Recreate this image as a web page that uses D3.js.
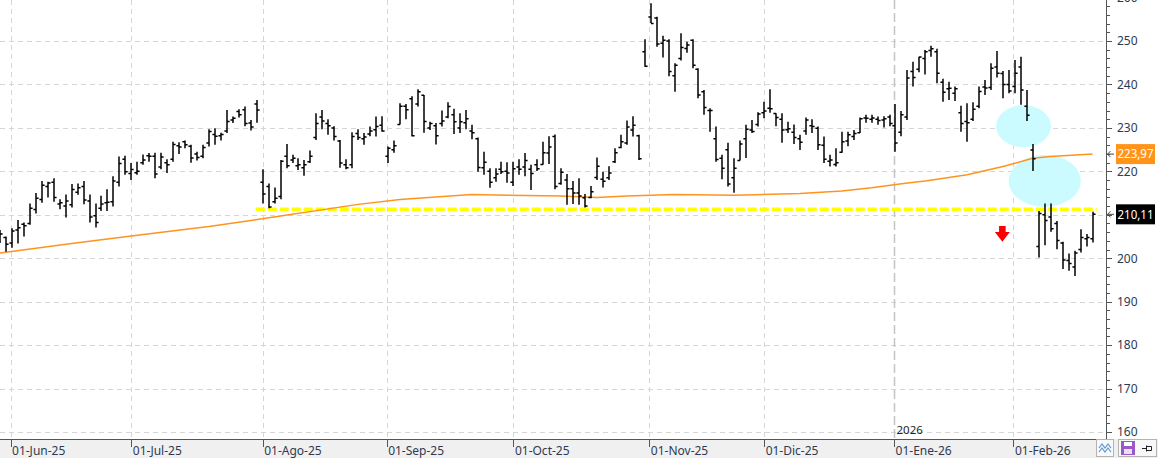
<!DOCTYPE html>
<html><head><meta charset="utf-8">
<script src="https://cdn.jsdelivr.net/npm/d3@7"></script>
<style>html,body{margin:0;padding:0;background:#fff;overflow:hidden}</style>
</head><body><svg id="c" width="1158" height="458"></svg>
<script>
// trading days (US calendar), grouped by month
const monthDays = [
  ["2025-05",[29,30]],
  ["2025-06",[2,3,4,5,6,9,10,11,12,13,16,17,18,20,23,24,25,26,27,30]],
  ["2025-07",[1,2,3,7,8,9,10,11,14,15,16,17,18,21,22,23,24,25,28,29,30,31]],
  ["2025-08",[1,4,5,6,7,8,11,12,13,14,15,18,19,20,21,22,25,26,27,28,29]],
  ["2025-09",[2,3,4,5,8,9,10,11,12,15,16,17,18,19,22,23,24,25,26,29,30]],
  ["2025-10",[1,2,3,6,7,8,9,10,13,14,15,16,17,20,21,22,23,24,27,28,29,30,31]],
  ["2025-11",[3,4,5,6,7,10,11,12,13,14,17,18,19,20,21,24,25,26,28]],
  ["2025-12",[1,2,3,4,5,8,9,10,11,12,15,16,17,18,19,22,23,24,26,29,30,31]],
  ["2026-01",[2,5,6,7,8,9,12,13,14,15,16,20,21,22,23,26,27,28,29,30]],
  ["2026-02",[2,3,4,5,6,9,10,11,12,13,17,18,19,20]]
];
const dates = monthDays.flatMap(([m, ds]) => ds.map(d => m + "-" + String(d).padStart(2,"0")));

const open = [
204.5,204.8,203.5,206.5,207.8,208.0,211.2,213.5,216.5,217.5,
212.5,212.0,212.3,215.2,216.5,213.2,209.8,211.5,212.8,213.0,
217.5,222.8,219.5,219.7,222.0,223.6,223.5,221.0,222.0,222.8,
225.9,226.8,225.8,224.0,223.5,226.5,228.5,228.2,229.3,231.8,
233.8,234.2,231.1,235.5,217.5,216.5,213.0,214.2,223.5,222.6,
221.3,220.8,222.2,227.8,232.5,231.0,230.0,227.0,221.5,221.5,
228.7,227.5,228.6,229.6,230.6,223.5,225.0,230.8,235.0,236.7,
235.5,237.5,230.0,230.5,231.0,232.5,233.0,230.0,231.2,229.3,
227.5,220.8,220.0,218.5,220.5,220.0,217.5,221.0,221.0,220.5,
221.5,221.6,224.2,228.0,217.2,218.0,216.0,215.0,213.9,214.0,
218.6,218.2,218.5,222.2,225.5,226.5,229.5,228.2,247.5,255.5,
255.3,249.5,250.0,242.0,246.0,248.3,250.2,243.5,238.3,234.0,
227.5,223.0,225.0,218.5,222.5,227.5,229.5,230.8,233.5,234.5,
233.3,232.0,229.6,229.0,227.5,229.3,230.5,229.9,226.0,222.3,
221.6,224.4,227.0,228.0,228.9,232.3,232.0,232.0,231.8,232.5,
230.5,229.0,232.5,243.0,243.5,246.0,247.8,247.5,240.5,239.0,
238.0,233.5,231.5,232.0,235.0,239.4,239.3,244.0,242.5,240.0,
239.5,244.0,235.0,224.9,202.7,210.0,209.5,208.0,203.5,199.5,
198.0,202.0,204.5,204.5];
const high = [
206.5,205.0,206.9,208.8,208.2,212.6,215.0,217.8,217.6,218.4,
213.6,214.7,217.1,217.2,217.8,214.7,212.6,214.4,215.9,218.9,
223.4,223.6,221.9,222.2,223.9,224.2,224.3,224.3,222.8,226.8,
226.7,227.1,226.1,224.5,226.1,229.7,229.9,228.9,234.1,232.6,
234.3,234.9,231.8,236.4,220.5,217.2,216.3,222.6,226.3,223.8,
223.0,222.6,224.8,233.4,234.1,232.0,230.4,227.2,222.8,229.0,
229.7,228.8,230.3,232.6,232.7,225.7,227.1,235.7,235.5,237.3,
238.9,237.6,231.4,231.1,234.0,235.9,234.4,233.4,234.1,230.7,
227.8,224.5,220.7,220.7,222.2,222.1,222.2,222.8,224.2,221.5,
222.8,226.8,228.1,228.5,220.7,219.4,217.8,218.4,214.8,216.6,
223.2,219.9,221.2,225.3,228.4,231.7,232.7,228.4,250.4,258.7,
255.6,251.2,250.4,244.9,251.8,249.8,250.4,243.7,238.7,234.5,
230.3,223.8,226.6,223.0,227.1,230.7,231.8,233.6,236.0,238.9,
233.4,233.4,231.4,230.8,228.4,232.4,232.0,230.3,228.0,223.8,
225.3,229.1,229.1,229.5,232.4,233.0,233.0,232.6,232.7,233.0,
235.5,233.9,243.3,245.2,246.4,247.9,248.9,248.2,241.3,240.6,
239.5,235.1,235.7,235.9,239.5,241.0,244.9,247.7,243.1,243.3,
245.6,246.4,238.7,226.3,210.9,212.6,212.6,208.6,203.8,201.1,
201.7,206.7,205.6,210.7];
const low = [
203.5,201.5,202.4,203.4,205.0,207.7,210.3,212.8,214.0,213.0,
211.3,209.4,211.7,214.6,212.4,208.2,207.1,210.9,210.9,211.9,
216.5,219.2,218.0,219.2,221.5,222.2,218.4,220.5,219.6,222.2,
224.0,225.3,222.0,222.5,223.0,225.7,226.1,227.1,228.8,231.1,
232.4,230.4,229.4,231.2,212.6,211.5,212.6,213.6,220.7,221.9,
220.3,219.0,221.9,227.2,229.7,228.4,227.1,220.8,220.5,220.7,
227.2,226.1,228.1,228.0,229.1,221.9,224.3,230.8,232.0,228.0,
234.9,228.9,229.5,226.2,230.3,232.2,228.6,228.8,229.7,227.4,
219.9,219.2,216.2,217.6,219.4,217.4,216.6,219.2,218.9,215.7,
220.1,221.5,221.7,215.9,216.9,212.3,212.5,212.3,211.7,213.8,
218.0,216.3,218.0,221.9,225.3,226.1,228.0,222.6,244.1,254.1,
248.7,246.2,241.9,238.3,245.5,247.3,243.7,236.8,233.0,229.1,
222.2,218.2,216.5,215.1,222.5,223.1,228.8,230.3,232.2,233.5,
230.4,226.6,228.8,226.3,224.9,228.4,228.8,224.9,221.9,221.1,
221.1,224.3,225.8,227.2,228.8,231.2,231.2,230.7,230.1,230.4,
224.5,228.1,231.8,239.5,242.8,242.3,246.4,240.3,236.0,236.4,
236.2,229.1,226.8,231.6,234.5,237.6,238.7,241.6,236.8,238.0,
238.0,235.3,231.6,220.1,200.2,203.0,206.1,202.1,197.5,197.1,
195.9,201.3,202.7,203.6];
const close = [
205.6,203.2,206.3,207.0,207.5,211.5,213.8,216.8,217.3,214.0,
212.8,213.2,215.8,216.2,213.4,209.5,208.2,212.5,212.9,217.8,
221.8,219.9,220.4,220.0,222.6,223.5,219.4,223.3,221.5,226.2,
225.6,226.1,223.1,223.2,225.5,229.2,228.1,228.5,231.5,232.2,
233.0,231.0,230.2,234.1,214.8,211.8,213.8,222.3,221.3,223.0,
221.5,221.5,223.5,231.0,231.6,230.5,228.0,221.9,220.8,228.0,
227.8,227.9,229.3,230.3,229.3,225.3,225.9,235.0,234.2,228.2,
238.3,231.5,231.0,228.2,231.6,234.9,231.4,231.4,232.1,228.9,
220.9,222.1,217.5,219.4,219.9,219.6,220.6,220.5,222.5,219.5,
220.6,224.3,225.6,216.5,219.8,216.0,215.0,214.3,212.0,215.3,
221.2,217.7,219.6,224.3,226.8,230.2,230.6,222.9,244.2,254.0,
249.3,250.2,243.0,244.4,248.5,249.1,244.4,237.6,234.7,234.0,
222.7,220.7,217.1,220.7,226.3,229.7,229.2,233.2,233.9,234.4,
232.4,229.5,229.8,227.8,226.7,231.8,230.3,226.1,222.8,222.6,
222.0,226.8,228.4,228.7,232.1,232.2,232.3,231.7,232.1,231.0,
226.5,233.0,241.5,241.6,246.3,247.5,248.2,242.6,238.2,239.1,
239.0,231.0,231.2,234.3,238.4,239.2,243.7,242.6,240.0,238.5,
242.6,238.7,232.9,222.9,210.3,208.7,206.8,204.1,199.6,198.8,
201.2,204.8,204.8,210.11];

// long moving average (orange)
const maDates = ["2025-05-29","2025-06-16","2025-07-02","2025-07-21","2025-08-06","2025-08-25","2025-09-04",
  "2025-09-22","2025-09-30","2025-10-13","2025-10-21","2025-10-28","2025-11-07","2025-11-21","2025-12-09",
  "2025-12-18","2025-12-26","2026-01-06","2026-01-09","2026-01-21","2026-01-29","2026-02-05","2026-02-10","2026-02-20"];
const maValues = [201.2,203.4,205.3,207.3,209.7,212.4,213.5,214.7,214.5,214.3,214.0,214.3,214.7,214.5,214.9,
  215.5,216.2,217.3,217.8,219.2,221.1,223.0,223.4,223.97];

const monthTickDates = ["2025-06-01","2025-07-01","2025-08-01","2025-09-01","2025-10-01","2025-11-01","2025-12-01","2026-01-01","2026-02-01"];
const monthTickLabels = ["01-Jun-25","01-Jul-25","01-Ago-25","01-Sep-25","01-Oct-25","01-Nov-25","01-Dic-25","01-Ene-26","01-Feb-26"];
const yTickValues = [160,170,180,190,200,210,220,230,240,250,260];
const yearLabel = "2026";
const lastPrice = 210.11, lastMA = 223.97;
const supportLevel = 211.3, supportStart = "2025-07-31";
// annotation shapes (center index, value, half-width in bars, half-height in price)
const zones = [
  {idx:171.45, value:230.4, rBars:4.6, rVal:4.85},
  {idx:175.0, value:217.8, rBars:6.05, rVal:6.0}
];
const arrowMark = {idx:167.9, top:207.4, tip:203.8};

// ---------- drawing ----------
const W = 1158, H = 458, plotR = 1106, plotB = 439;
const svg = d3.select("#c");
const font = "'Segoe UI','Noto Sans','Open Sans',sans-serif";
const n = dates.length;
const xi = d3.scaleLinear().domain([0, n - 1]).range([0, 1092.5]);
const xd = d => xi(dates.indexOf(d));
const y = d3.scaleLinear().domain([160, 260]).range([432.05, -2.45]);

function tickX(ds) {
  let i = dates.indexOf(ds);
  if (i >= 0) return xi(i);
  i = dates.findIndex(d => d > ds);
  return xi(i) - 1.4;
}

svg.append("rect").attr("width", W).attr("height", H).attr("fill", "#fff");
const plot = svg.append("g");
plot.append("clipPath").attr("id","pc").append("rect").attr("x",0).attr("y",0).attr("width",plotR).attr("height",plotB);
const pg = plot.append("g").attr("clip-path","url(#pc)");

// horizontal grid
pg.selectAll("line.hg").data(yTickValues).join("line")
  .attr("x1",0).attr("x2",plotR).attr("y1",d=>Math.round(y(d))+0.5).attr("y2",d=>Math.round(y(d))+0.5)
  .attr("stroke","#d6d6d6").attr("stroke-dasharray","5,4");
// vertical grid
pg.selectAll("line.vg").data(monthTickDates.filter(d=>d!=="2026-01-01")).join("line")
  .attr("x1",d=>Math.round(tickX(d))+0.5).attr("x2",d=>Math.round(tickX(d))+0.5).attr("y1",0).attr("y2",plotB)
  .attr("stroke","#d6d6d6").attr("stroke-dasharray","5,4");
// year separator
const yx = Math.round(tickX("2026-01-01"))+0.5;
pg.append("line").attr("x1",yx).attr("x2",yx).attr("y1",0).attr("y2",plotB)
  .attr("stroke","#c4c4c4").attr("stroke-width",1.5).attr("stroke-dasharray","9,4");
pg.append("text").attr("x",yx+2).attr("y",434).attr("font-family",font).attr("font-size",11.5)
  .attr("fill","#222").text(yearLabel);

// highlight ellipses
pg.selectAll("ellipse").data(zones).join("ellipse")
  .attr("cx",d=>xi(d.idx)).attr("cy",d=>y(d.value))
  .attr("rx",d=>xi(d.rBars)-xi(0)).attr("ry",d=>y(0)-y(d.rVal))
  .attr("fill","#cbfbff");

// support line (yellow dashed)
pg.append("line").attr("x1",xd(supportStart)-1).attr("x2",xi(n-1+0.7))
  .attr("y1",y(supportLevel)).attr("y2",y(supportLevel))
  .attr("stroke","#ffff00").attr("stroke-width",3.5).attr("stroke-dasharray","9,3");

// moving average
const ma = maDates.map((d,i)=>({x:xd(d), v:maValues[i]}));
pg.append("path").datum(ma)
  .attr("d", d3.line().x(d=>d.x).y(d=>y(d.v)))
  .attr("fill","none").attr("stroke","#ff931e").attr("stroke-width",1.5);

// OHLC bars
pg.selectAll("path.bar").data(d3.range(n)).join("path").attr("class","bar")
  .attr("d", i => {
    const x = Math.round(xi(i));
    return `M${x},${y(high[i])}V${y(low[i])}M${x-2.6},${y(open[i])}H${x}M${x},${y(close[i])}H${x+2.6}`;
  })
  .attr("stroke","#000").attr("stroke-width",1.5).attr("fill","none");

// red arrow
{
  const ax = xi(arrowMark.idx), yt = y(arrowMark.top), yp = y(arrowMark.tip);
  const mid = yt + (yp - yt) * 0.38;
  pg.append("path")
    .attr("d",`M${ax-3.3},${yt}H${ax+3.3}V${mid}H${ax+7.5}L${ax},${yp}L${ax-7.5},${mid}H${ax-3.3}Z`)
    .attr("fill","#ff0000");
}

// right axis
const ax = svg.append("g");
ax.append("line").attr("x1",plotR+0.5).attr("x2",plotR+0.5).attr("y1",0).attr("y2",plotB)
  .attr("stroke","#555").attr("stroke-width",1);
const minor = d3.range(160, 262, 2);
ax.selectAll("line.mt").data(minor).join("line")
  .attr("x1",plotR).attr("x2",d=>d%10===0?plotR+6:plotR+4)
  .attr("y1",d=>Math.round(y(d))+0.5).attr("y2",d=>Math.round(y(d))+0.5)
  .attr("stroke","#555");
// labels that are not hidden under a value flag
const flagVals = [lastMA, lastPrice];
ax.selectAll("text.yl").data(yTickValues.filter(v => flagVals.every(f => Math.abs(y(v) - y(f)) > 13))).join("text")
  .attr("x",plotR+11).attr("y",d=>y(d)).attr("dy","0.36em")
  .attr("font-family",font).attr("font-size",12).attr("fill","#2e3a52").text(d=>d);

// value flags
function flag(v, bg, label){
  const yy = y(v);
  ax.append("path").attr("d",`M${plotR+8},${yy}H${plotR+1.5}M${plotR+4.5},${yy-3}L${plotR+1.5},${yy}L${plotR+4.5},${yy+3}`)
    .attr("stroke","#444").attr("fill","none").attr("stroke-width",1);
  ax.append("rect").attr("x",1116).attr("y",yy-10).attr("width",39).attr("height",20).attr("fill",bg);
  ax.append("text").attr("x",1117.5).attr("y",yy).attr("dy","0.36em").attr("font-family",font)
    .attr("font-size",12).attr("textLength",36).attr("lengthAdjust","spacingAndGlyphs")
    .attr("fill","#fff").text(label);
}
const fmt = v => v.toFixed(2).replace(".", ",");
flag(lastMA, "#ff9419", fmt(lastMA));
flag(lastPrice, "#000", fmt(lastPrice));

// bottom axis strip
svg.append("rect").attr("x",0).attr("y",plotB).attr("width",W).attr("height",H-plotB).attr("fill","#f0f0f0");
svg.append("line").attr("x1",0).attr("x2",plotR+1).attr("y1",plotB+0.5).attr("y2",plotB+0.5).attr("stroke","#555");
const bx = svg.append("g");
bx.selectAll("line").data(monthTickDates).join("line")
  .attr("x1",d=>Math.round(tickX(d))+0.5).attr("x2",d=>Math.round(tickX(d))+0.5)
  .attr("y1",plotB).attr("y2",plotB+8).attr("stroke","#555");
bx.selectAll("text").data(monthTickDates).join("text")
  .attr("x",d=>tickX(d)+1.5).attr("y",455).attr("font-family",font).attr("font-size",12)
  .attr("fill","#2e3a52").text((d,i)=>monthTickLabels[i]);

// corner buttons
const ic = svg.append("g");
ic.append("rect").attr("x",1096.5).attr("y",439.5).attr("width",17).attr("height",17).attr("fill","#f8f8f8").attr("stroke","#b4b4b4");
ic.append("path").attr("d","M1099,448 l3,-4 l3,4 l3,-4 l3,4 M1099,452 l3,-4 l3,4 l3,-4 l3,4")
  .attr("stroke","#5b9bd5").attr("fill","none").attr("stroke-width",1.2);
ic.append("rect").attr("x",1118.5).attr("y",439.5).attr("width",38).attr("height",17).attr("fill","#f8f8f8").attr("stroke","#b4b4b4");
ic.append("rect").attr("x",1121).attr("y",441).attr("width",14).attr("height",14).attr("fill","#9b59c6");
ic.append("rect").attr("x",1124).attr("y",442).attr("width",8).attr("height",4).attr("fill","#fff");
ic.append("rect").attr("x",1124).attr("y",449).attr("width",8).attr("height",5).attr("fill","#e8e0f0");
ic.append("path").attr("d","M1142,448.5H1146 M1146.5,445.5V451.5 M1146.5,446.5H1151.5V450.5H1146.5")
  .attr("stroke","#222").attr("fill","none").attr("stroke-width",1);
</script></body></html>
